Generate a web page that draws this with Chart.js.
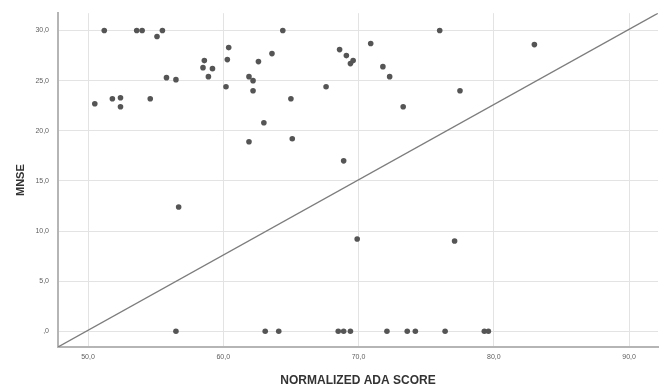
<!DOCTYPE html>
<html>
<head>
<meta charset="utf-8">
<script src="https://cdn.jsdelivr.net/npm/chart.js@4.4.1/dist/chart.umd.min.js"></script>
<style>
  html, body { margin: 0; padding: 0; background: #fff; }
  #wrap { width: 665px; height: 388px; }
</style>
</head>
<body>
<div id="wrap"><canvas id="chart" width="665" height="388"></canvas></div>
<script>
// normalized ADA score (x) and MNSE (y)
const adaScore = [
  50.5, 51.2, 51.8, 52.4, 52.4, 53.6, 54.0, 54.6, 55.1, 55.5,
  55.8, 56.5, 56.7, 56.5, 58.6, 58.5, 59.2, 58.9, 60.4, 60.3,
  60.2, 61.9, 62.2, 62.2, 62.6, 63.6, 64.4, 65.0, 63.0, 61.9,
  65.1, 67.6, 68.6, 69.1, 69.6, 69.4, 70.9, 71.8, 72.3, 73.3,
  76.0, 77.5, 83.0, 68.9, 69.9, 77.1,
  63.1, 64.1, 68.5, 68.9, 69.4, 72.1, 73.6, 74.2, 76.4, 79.3, 79.6
];
const mnse = [
  22.7, 30.0, 23.2, 23.3, 22.4, 30.0, 30.0, 23.2, 29.4, 30.0,
  25.3, 25.1, 12.4, 0.0, 27.0, 26.3, 26.2, 25.4, 28.3, 27.1,
  24.4, 25.4, 25.0, 24.0, 26.9, 27.7, 30.0, 23.2, 20.8, 18.9,
  19.2, 24.4, 28.1, 27.5, 27.0, 26.7, 28.7, 26.4, 25.4, 22.4,
  30.0, 24.0, 28.6, 17.0, 9.2, 9.0,
  0.0, 0.0, 0.0, 0.0, 0.0, 0.0, 0.0, 0.0, 0.0, 0.0, 0.0
];
const xTicks = [50, 60, 70, 80, 90];
const yTicks = [0, 5, 10, 15, 20, 25, 30];
const xRange = [47.78, 92.14];
const yRange = [-1.57, 31.73];

function fmtComma(v) {
  if (v === 0) return ",0";
  return v.toFixed(1).replace(".", ",");
}

const points = adaScore.map((x, i) => ({ x: x, y: mnse[i] }));
// diagonal of the frame, corner to corner
const diagonal = [
  { x: xRange[0], y: yRange[0] },
  { x: xRange[1], y: yRange[1] },
];

const gridColor = "#e3e3e3";
const tickFont = { family: "Liberation Sans, Arial, sans-serif", size: 7 };
const titleFont = { family: "Liberation Sans, Arial, sans-serif", size: 11, weight: "bold" };

new Chart(document.getElementById("chart"), {
  type: "scatter",
  data: {
    datasets: [
      {
        type: "line",
        data: diagonal,
        borderColor: "#7d7d7d",
        borderWidth: 1.3,
        pointRadius: 0,
        fill: false,
      },
      {
        data: points,
        backgroundColor: "#555555",
        borderWidth: 0,
        pointRadius: 2.8,
      },
    ],
  },
  options: {
    responsive: false,
    animation: false,
    layout: { padding: { top: 8, right: 7, left: 0, bottom: 0 } },
    plugins: { legend: { display: false }, tooltip: { enabled: false } },
    scales: {
      x: {
        type: "linear",
        min: xRange[0],
        max: xRange[1],
        afterBuildTicks(scale) {
          scale.ticks = xTicks.map((v) => ({ value: v }));
        },
        afterFit(scale) {
          scale.height = 41;
        },
        grid: { color: gridColor, lineWidth: 1, drawTicks: false },
        border: { color: "#b5b5b5", width: 2 },
        ticks: {
          padding: 6,
          color: "#5e5e5e",
          font: tickFont,
          maxRotation: 0,
          callback: (v) => fmtComma(v),
        },
        title: {
          display: true,
          text: "NORMALIZED ADA SCORE",
          color: "#333",
          font: { ...titleFont, size: 12 },
          padding: { top: 0, bottom: 0 },
        },
      },
      y: {
        type: "linear",
        min: yRange[0],
        max: yRange[1],
        afterBuildTicks(scale) {
          scale.ticks = yTicks.map((v) => ({ value: v }));
        },
        afterFit(scale) {
          scale.width = 58;
        },
        grid: { color: gridColor, lineWidth: 1, drawTicks: false },
        border: { color: "#b5b5b5", width: 2 },
        ticks: {
          padding: 9,
          color: "#5e5e5e",
          font: tickFont,
          callback: (v) => fmtComma(v),
        },
        title: {
          display: true,
          text: "MNSE",
          color: "#333",
          font: titleFont,
          padding: { top: 14, bottom: 0 },
        },
      },
    },
  },
});
</script>
</body>
</html>
